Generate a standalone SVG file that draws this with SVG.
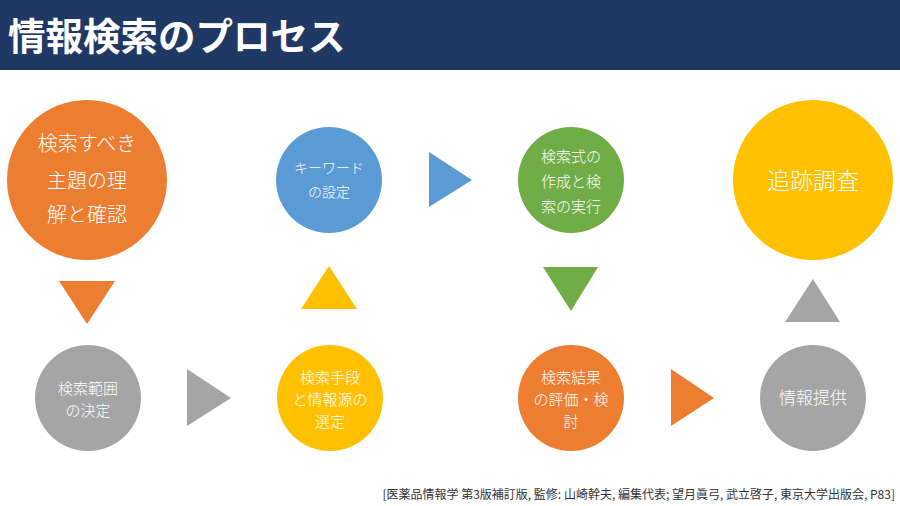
<svg xmlns="http://www.w3.org/2000/svg" width="900" height="506" viewBox="0 0 900 506">
<style>
.t{font-family:"Noto Sans CJK JP","Noto Sans",sans-serif;fill:#ffffff;text-anchor:middle;font-weight:300}
.title{font-family:"Noto Sans CJK JP","Noto Sans",sans-serif;fill:#ffffff;font-weight:700;font-size:37.5px}
.cite{font-family:"Noto Sans CJK JP","Noto Sans",sans-serif;fill:#333333;font-size:12px;text-anchor:end}
.or{fill:#ED7D31}.bl{fill:#5B9BD5}.gr{fill:#70AD47}.ye{fill:#FFC000}.gy{fill:#A5A5A5}
</style>
<rect width="900" height="506" fill="#ffffff"/>
<rect x="0" y="0" width="900" height="70" fill="#203864"/>
<text class="title" x="8" y="50">情報検索のプロセス</text>

<g id="n1"><circle class="or" cx="87" cy="180" r="80"/>
<text class="t" font-size="20" x="87" y="151">検索すべき</text>
<text class="t" font-size="20" x="87" y="188">主題の理</text>
<text class="t" font-size="20" x="87" y="222">解と確認</text></g>

<g id="n2"><circle class="gy" cx="88" cy="398" r="53"/>
<text class="t" font-size="15" x="88" y="394">検索範囲</text>
<text class="t" font-size="15" x="88" y="416">の決定</text></g>

<g id="n3"><circle class="ye" cx="330" cy="398" r="53"/>
<text class="t" font-size="15" x="330" y="383">検索手段</text>
<text class="t" font-size="15" x="330" y="405">と情報源の</text>
<text class="t" font-size="15" x="330" y="427">選定</text></g>

<g id="n4"><circle class="bl" cx="329" cy="180" r="53"/>
<text class="t" font-size="14" x="329" y="173">キーワード</text>
<text class="t" font-size="14" x="329" y="197">の設定</text></g>

<g id="n5"><circle class="gr" cx="571" cy="180" r="53"/>
<text class="t" font-size="15" x="571" y="162">検索式の</text>
<text class="t" font-size="15" x="571" y="187">作成と検</text>
<text class="t" font-size="15" x="571" y="212">索の実行</text></g>

<g id="n6"><circle class="or" cx="571" cy="398" r="53"/>
<text class="t" font-size="15" x="571" y="383">検索結果</text>
<text class="t" font-size="15" x="571" y="405">の評価・検</text>
<text class="t" font-size="15" x="571" y="427">討</text></g>

<g id="n7"><circle class="gy" cx="813" cy="398" r="53"/>
<text class="t" font-size="17" x="813" y="404">情報提供</text></g>

<g id="n8"><circle class="ye" cx="813" cy="180" r="80"/>
<text class="t" font-size="23" x="813" y="189">追跡調査</text></g>

<g id="connectors">
<polygon class="or" points="59,281 115,281 87,324"/>
<polygon class="gy" points="187,369 187,426 231,398"/>
<polygon class="ye" points="301,309 357,309 329,266"/>
<polygon class="bl" points="429,152 429,207 472,180"/>
<polygon class="gr" points="543,267 598,267 571,311"/>
<polygon class="or" points="671,369 671,426 714,398"/>
<polygon class="gy" points="785,322 840,322 813,279"/>
</g>

<text class="cite" x="895" y="499">[医薬品情報学 第3版補訂版, 監修: 山崎幹夫, 編集代表; 望月眞弓, 武立啓子, 東京大学出版会, P83]</text>
</svg>
